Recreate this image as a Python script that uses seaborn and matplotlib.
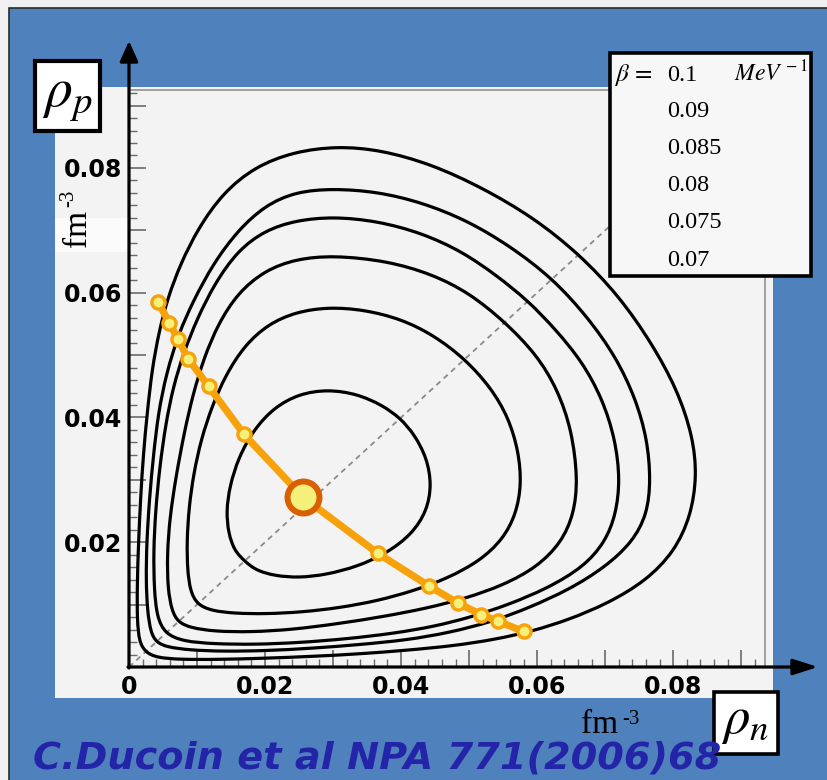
import numpy as np
import matplotlib
matplotlib.use("Agg")
import matplotlib.pyplot as plt
import seaborn as sns
from matplotlib.path import Path
from matplotlib.patches import PathPatch, Rectangle, FancyArrowPatch
from matplotlib.ticker import MultipleLocator, FuncFormatter

# ---------------------------------------------------------------------------
# Spinodal contours in the (rho_n, rho_p) plane, one closed loop per beta.
# Each loop starts on the diagonal at high density, runs over the top,
# down the proton-rich side, round the low-density corner and back.
# ---------------------------------------------------------------------------
beta_values = ["0.1", "0.09", "0.085", "0.08", "0.075", "0.07"]

rho_n_b0100 = [0.0662, 0.0594, 0.0520, 0.0445, 0.0370, 0.0306, 0.0242, 0.0185, 0.0138, 0.0102,
               0.0076, 0.0057, 0.0044, 0.0034, 0.0027, 0.0021, 0.0017, 0.0014, 0.0012, 0.0012,
               0.0015, 0.0024, 0.0040, 0.0075, 0.0130, 0.0200, 0.0270, 0.0340, 0.0410, 0.0478,
               0.0537, 0.0592, 0.0647, 0.0704, 0.0760, 0.0802, 0.0826, 0.0835, 0.0829, 0.0806,
               0.0768, 0.0721]
rho_p_b0100 = [0.0662, 0.0721, 0.0768, 0.0806, 0.0829, 0.0835, 0.0826, 0.0802, 0.0760, 0.0704,
               0.0647, 0.0592, 0.0537, 0.0478, 0.0410, 0.0340, 0.0270, 0.0200, 0.0130, 0.0075,
               0.0040, 0.0024, 0.0015, 0.0012, 0.0012, 0.0014, 0.0017, 0.0021, 0.0027, 0.0034,
               0.0044, 0.0057, 0.0076, 0.0102, 0.0138, 0.0185, 0.0242, 0.0306, 0.0370, 0.0445,
               0.0520, 0.0594]

rho_n_b0090 = [0.0623, 0.0560, 0.0497, 0.0430, 0.0365, 0.0300, 0.0245, 0.0200, 0.0160, 0.0124,
               0.0095, 0.0073, 0.0055, 0.0043, 0.0036, 0.0030, 0.0026, 0.0025, 0.0027, 0.0032,
               0.0040, 0.0055, 0.0090, 0.0140, 0.0200, 0.0270, 0.0340, 0.0407, 0.0471, 0.0535,
               0.0588, 0.0647, 0.0700, 0.0740, 0.0762, 0.0767, 0.0762, 0.0745, 0.0716, 0.0675]
rho_p_b0090 = [0.0623, 0.0675, 0.0716, 0.0745, 0.0762, 0.0767, 0.0762, 0.0740, 0.0700, 0.0647,
               0.0588, 0.0535, 0.0471, 0.0407, 0.0340, 0.0270, 0.0200, 0.0140, 0.0090, 0.0055,
               0.0040, 0.0032, 0.0027, 0.0025, 0.0026, 0.0030, 0.0036, 0.0043, 0.0055, 0.0073,
               0.0095, 0.0124, 0.0160, 0.0200, 0.0245, 0.0300, 0.0365, 0.0430, 0.0497, 0.0560]

rho_n_b0085 = [0.0587, 0.0540, 0.0490, 0.0430, 0.0365, 0.0300, 0.0245, 0.0200, 0.0160, 0.0126,
               0.0100, 0.0080, 0.0065, 0.0054, 0.0045, 0.0039, 0.0036, 0.0037, 0.0041, 0.0053,
               0.0080, 0.0125, 0.0185, 0.0250, 0.0320, 0.0390, 0.0449, 0.0503, 0.0558, 0.0615,
               0.0668, 0.0700, 0.0716, 0.0722, 0.0715, 0.0696, 0.0666, 0.0628]
rho_p_b0085 = [0.0587, 0.0628, 0.0666, 0.0696, 0.0715, 0.0722, 0.0716, 0.0700, 0.0668, 0.0615,
               0.0558, 0.0503, 0.0449, 0.0390, 0.0320, 0.0250, 0.0185, 0.0125, 0.0080, 0.0053,
               0.0041, 0.0037, 0.0036, 0.0039, 0.0045, 0.0054, 0.0065, 0.0080, 0.0100, 0.0126,
               0.0160, 0.0200, 0.0245, 0.0300, 0.0365, 0.0430, 0.0490, 0.0540]

rho_n_b0080 = [0.0553, 0.0500, 0.0445, 0.0380, 0.0300, 0.0245, 0.0200, 0.0160, 0.0131, 0.0110,
               0.0094, 0.0081, 0.0069, 0.0060, 0.0056, 0.0057, 0.0063, 0.0072, 0.0090, 0.0125,
               0.0180, 0.0240, 0.0305, 0.0375, 0.0437, 0.0495, 0.0550, 0.0600, 0.0636, 0.0654,
               0.0660, 0.0651, 0.0630, 0.0600]
rho_p_b0080 = [0.0553, 0.0600, 0.0630, 0.0651, 0.0660, 0.0654, 0.0636, 0.0600, 0.0550, 0.0495,
               0.0437, 0.0375, 0.0305, 0.0240, 0.0180, 0.0125, 0.0090, 0.0072, 0.0063, 0.0057,
               0.0056, 0.0060, 0.0069, 0.0081, 0.0094, 0.0110, 0.0131, 0.0160, 0.0200, 0.0245,
               0.0300, 0.0380, 0.0445, 0.0500]

rho_n_b0075 = [0.0494, 0.0448, 0.0400, 0.0345, 0.0292, 0.0245, 0.0205, 0.0170, 0.0142, 0.0122,
               0.0106, 0.0095, 0.0088, 0.0085, 0.0086, 0.0090, 0.0100, 0.0122, 0.0155, 0.0200,
               0.0255, 0.0310, 0.0365, 0.0418, 0.0468, 0.0516, 0.0550, 0.0569, 0.0577, 0.0573,
               0.0558, 0.0532]
rho_p_b0075 = [0.0494, 0.0532, 0.0558, 0.0573, 0.0577, 0.0569, 0.0550, 0.0516, 0.0468, 0.0418,
               0.0365, 0.0310, 0.0255, 0.0200, 0.0155, 0.0122, 0.0100, 0.0090, 0.0086, 0.0085,
               0.0088, 0.0095, 0.0106, 0.0122, 0.0142, 0.0170, 0.0205, 0.0245, 0.0292, 0.0345,
               0.0400, 0.0448]

rho_n_b0070 = [0.0399, 0.0372, 0.0335, 0.0292, 0.0250, 0.0213, 0.0183, 0.0161, 0.0148, 0.0143,
               0.0146, 0.0155, 0.0170, 0.0186, 0.0215, 0.0250, 0.0290, 0.0336, 0.0380, 0.0416,
               0.0438, 0.0445, 0.0438, 0.0420]
rho_p_b0070 = [0.0399, 0.0420, 0.0438, 0.0445, 0.0438, 0.0416, 0.0380, 0.0336, 0.0290, 0.0250,
               0.0215, 0.0186, 0.0170, 0.0155, 0.0146, 0.0143, 0.0148, 0.0161, 0.0183, 0.0213,
               0.0250, 0.0292, 0.0335, 0.0372]

# Path of the instability direction, with the critical point in the middle
path_rho_n = [0.0043, 0.0059, 0.0072, 0.0087, 0.0117, 0.0169, 0.0256,
              0.0366, 0.0441, 0.0484, 0.0518, 0.0543, 0.0580]
path_rho_p = [0.0585, 0.0552, 0.0526, 0.0494, 0.0450, 0.0373, 0.0272,
              0.0182, 0.0130, 0.0102, 0.0084, 0.0073, 0.0057]
critical_index = 6

x_ticks = [0, 0.02, 0.04, 0.06, 0.08]
y_ticks = [0.02, 0.04, 0.06, 0.08]

# ---------------------------------------------------------------------------
W, H = 828, 780
BLUE = "#4f81bd"
PANEL = "#f3f3f3"
X_MAX, Y_MAX = 0.0935, 0.0925


def fx(x):
    return x / W


def fy(y):
    return 1 - y / H


def fig_rect(fig, x0, y0, x1, y1, **kw):
    r = Rectangle((fx(x0), fy(y1)), (x1 - x0) / W, (y1 - y0) / H,
                  transform=fig.transFigure, **kw)
    fig.add_artist(r)
    return r


def closed_bspline_path(xs, ys):
    """Closed uniform cubic B-spline loop on the given points, written as
    cubic Bezier segments for matplotlib's Path."""
    P = np.column_stack([xs, ys])
    n = len(P)
    verts, codes = [], []
    for i in range(n):
        a, b, c, d = P[i - 1], P[i], P[(i + 1) % n], P[(i + 2) % n]
        start = (a + 4 * b + c) / 6.0
        if i == 0:
            verts.append(start)
            codes.append(Path.MOVETO)
        verts += [(2 * b + c) / 3.0, (b + 2 * c) / 3.0, (b + 4 * c + d) / 6.0]
        codes += [Path.CURVE4] * 3
    return Path(np.array(verts), codes)


sns.set_theme(style="white")
plt.rcParams["mathtext.fontset"] = "stix"

fig = plt.figure(figsize=(W / 100, H / 100), dpi=100)
fig.patch.set_facecolor("#f0f0f0")

# blue slide background and light plotting panel
fig_rect(fig, 9, 8, 829, 781, facecolor=BLUE, edgecolor="#2a2a2a", lw=1.2, zorder=-10)
fig_rect(fig, 55, 87, 773, 698, facecolor=PANEL, edgecolor="none", zorder=-9)
fig_rect(fig, 55, 218, 128, 252, facecolor="#fbfbfb", edgecolor="none", zorder=-8)

ax_w, ax_h = (765 - 129) / W, (667 - 90) / H
ax = fig.add_axes([fx(129), fy(667), ax_w, ax_h])
ax.set_facecolor(PANEL)
ax.set_xlim(0, X_MAX)
ax.set_ylim(0, Y_MAX)

# diagonal rho_n = rho_p
ax.plot([0, Y_MAX], [0, Y_MAX], color="#8a8a8a", lw=1.3, ls=(0, (3, 2.5)), zorder=2)

curves = [(rho_n_b0100, rho_p_b0100), (rho_n_b0090, rho_p_b0090),
          (rho_n_b0085, rho_p_b0085), (rho_n_b0080, rho_p_b0080),
          (rho_n_b0075, rho_p_b0075), (rho_n_b0070, rho_p_b0070)]
for xs, ys in curves:
    ax.add_patch(PathPatch(closed_bspline_path(xs, ys), facecolor="none",
                           edgecolor="black", lw=2.3, zorder=3))

# orange path with its points
sns.lineplot(x=path_rho_n, y=path_rho_p, sort=False, estimator=None,
             color="#f7a20a", lw=5.2, ax=ax, zorder=4)
small = [i for i in range(len(path_rho_n)) if i != critical_index]
ax.plot([path_rho_n[i] for i in small], [path_rho_p[i] for i in small],
        ls="none", marker="o", ms=9.5, mfc="#f4f07a", mec="#f7a20a", mew=2.4, zorder=5)
ax.plot([path_rho_n[critical_index]], [path_rho_p[critical_index]],
        ls="none", marker="o", ms=23, mfc="#f4f07a", mec="#d95f02", mew=4.3, zorder=6)

# ticks and labels
ax.xaxis.set_major_locator(MultipleLocator(0.01))
ax.xaxis.set_minor_locator(MultipleLocator(0.002))
ax.yaxis.set_major_locator(MultipleLocator(0.01))
ax.yaxis.set_minor_locator(MultipleLocator(0.002))


def xfmt(v, _):
    r = round(v, 2)
    if r == 0:
        return "0"
    return f"{r:.2f}" if r in x_ticks else ""


def yfmt(v, _):
    r = round(v, 2)
    return f"{r:.2f}" if r in y_ticks else ""


ax.xaxis.set_major_formatter(FuncFormatter(xfmt))
ax.yaxis.set_major_formatter(FuncFormatter(yfmt))
ax.tick_params(which="major", direction="in", length=12.5, width=1.2, color="#6b6b6b",
               bottom=True, left=True, top=False, right=False)
ax.tick_params(which="minor", direction="in", length=5.5, width=1.0, color="#6b6b6b",
               bottom=True, left=True, top=False, right=False)
ax.tick_params(axis="x", which="major", pad=5.5)
ax.tick_params(axis="y", which="major", pad=5)
for lab in ax.get_xticklabels() + ax.get_yticklabels():
    lab.set_fontfamily("DejaVu Sans")
    lab.set_fontweight("bold")
    lab.set_fontsize(17)
    lab.set_color("black")

for side in ("left", "bottom"):
    ax.spines[side].set_visible(False)
for side in ("top", "right"):
    ax.spines[side].set_color("#9a9a9a")
    ax.spines[side].set_linewidth(1.3)

# axis arrows
fig.add_artist(FancyArrowPatch((fx(129), fy(668)), (fx(129), fy(41)), transform=fig.transFigure,
                               arrowstyle="-|>,head_length=0.62,head_width=0.28",
                               mutation_scale=20, lw=2.3, color="black",
                               shrinkA=0, shrinkB=0, zorder=8))
fig.add_artist(FancyArrowPatch((fx(128), fy(667)), (fx(818), fy(667)), transform=fig.transFigure,
                               arrowstyle="-|>,head_length=0.75,head_width=0.24",
                               mutation_scale=20, lw=2.3, color="black",
                               shrinkA=0, shrinkB=0, zorder=8))

# units (fm^-3) on both axes
serif = "Liberation Serif"
fig.text(fx(78), fy(228), "fm", rotation=90, ha="center", va="center",
         fontsize=24, family=serif, color="black")
fig.text(fx(69), fy(198), "-3", rotation=90, ha="center", va="center",
         fontsize=15, family=serif, color="black")
fig.text(fx(600), fy(733), "fm", ha="center", va="baseline",
         fontsize=24, family=serif, color="black")
fig.text(fx(631), fy(724), "-3", ha="center", va="baseline",
         fontsize=15, family=serif, color="black")

# axis symbols in boxes
fig_rect(fig, 35, 61, 100, 131, facecolor="white", edgecolor="black", lw=3.0, zorder=9)
fig.text(fx(67), fy(106), r"$\rho_{p}$", ha="center", va="baseline", fontsize=40,
         color="black", zorder=10)
fig_rect(fig, 714, 692, 778, 754, facecolor="white", edgecolor="black", lw=2.6, zorder=9)
fig.text(fx(745), fy(733), r"$\rho_{n}$", ha="center", va="baseline", fontsize=38,
         color="black", zorder=10)

# beta key
fig_rect(fig, 610, 53, 811, 276, facecolor="#f7f7f7", edgecolor="black", lw=2.6, zorder=9)
row_base = [81, 117, 154, 191, 228, 266]
fig.text(fx(614), fy(row_base[0]), r"$\beta\,=$", ha="left", va="baseline", fontsize=18,
         color="black", zorder=10)
for val, yb in zip(beta_values, row_base):
    fig.text(fx(667), fy(yb), val, ha="left", va="baseline", fontsize=17.5,
             family=serif, color="black", zorder=10)
fig.text(fx(734), fy(row_base[0]), r"$MeV^{\,-1}$", ha="left", va="baseline", fontsize=17,
         color="black", zorder=10)

# reference
fig.text(fx(33), fy(769), "C.Ducoin et al NPA 771(2006)68", ha="left", va="baseline",
         fontsize=27.5, family="DejaVu Sans", weight="bold", style="italic",
         color="#2424a8", zorder=10)

fig.savefig("out.png", dpi=100, facecolor=fig.get_facecolor())
